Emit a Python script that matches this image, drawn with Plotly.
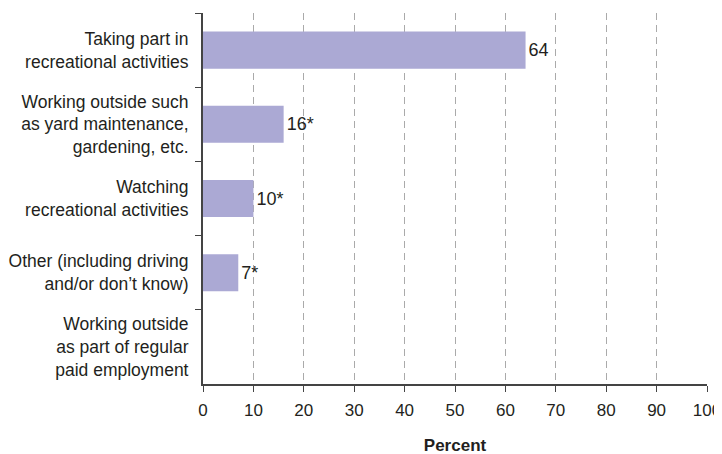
import plotly.graph_objects as go

categories = [
    "Taking part in<br>recreational activities",
    "Working outside such<br>as yard maintenance,<br>gardening, etc.",
    "Watching<br>recreational activities",
    "Other (including driving<br>and/or don’t know)",
    "Working outside<br>as part of regular<br>paid employment",
]
values = [64, 16, 10, 7, None]
labels = ["64", "16*", "10*", "7*", ""]

fig = go.Figure(go.Bar(
    x=values, y=categories, orientation="h",
    marker=dict(color="#aba9d4", line=dict(width=0)),
    text=labels, textposition="outside", cliponaxis=False,
    textfont=dict(size=18, color="#231f20"),
    width=0.5,
))

# the page body adds an 8px offset, so margins are shifted to compensate
fig.update_layout(
    width=722, height=454,
    margin=dict(l=195, r=23, t=5, b=78),
    paper_bgcolor="white", plot_bgcolor="white",
    font=dict(family="Liberation Sans, Arial, sans-serif", size=18, color="#231f20"),
    showlegend=False,
)
fig.update_xaxes(
    range=[0, 100], dtick=10, tick0=0, automargin=False,
    showgrid=True, gridcolor="#aaaaaa", griddash="7px,5px", gridwidth=1,
    showline=True, linecolor="#444444", linewidth=2,
    ticks="outside", ticklen=6, tickcolor="#444444",
    tickfont=dict(size=17), ticklabelstandoff=4,
    zeroline=False,
    title=dict(text="<b>Percent</b>", font=dict(size=17), standoff=20),
)
fig.update_yaxes(
    categoryorder="array", categoryarray=categories, autorange="reversed",
    automargin=False,
    showline=True, linecolor="#444444", linewidth=2,
    ticks="outside", ticklen=6, tickcolor="#444444", tickson="boundaries",
    showgrid=False, ticklabelstandoff=9, tickfont=dict(size=17.5),
)

fig.write_html("out.html")
